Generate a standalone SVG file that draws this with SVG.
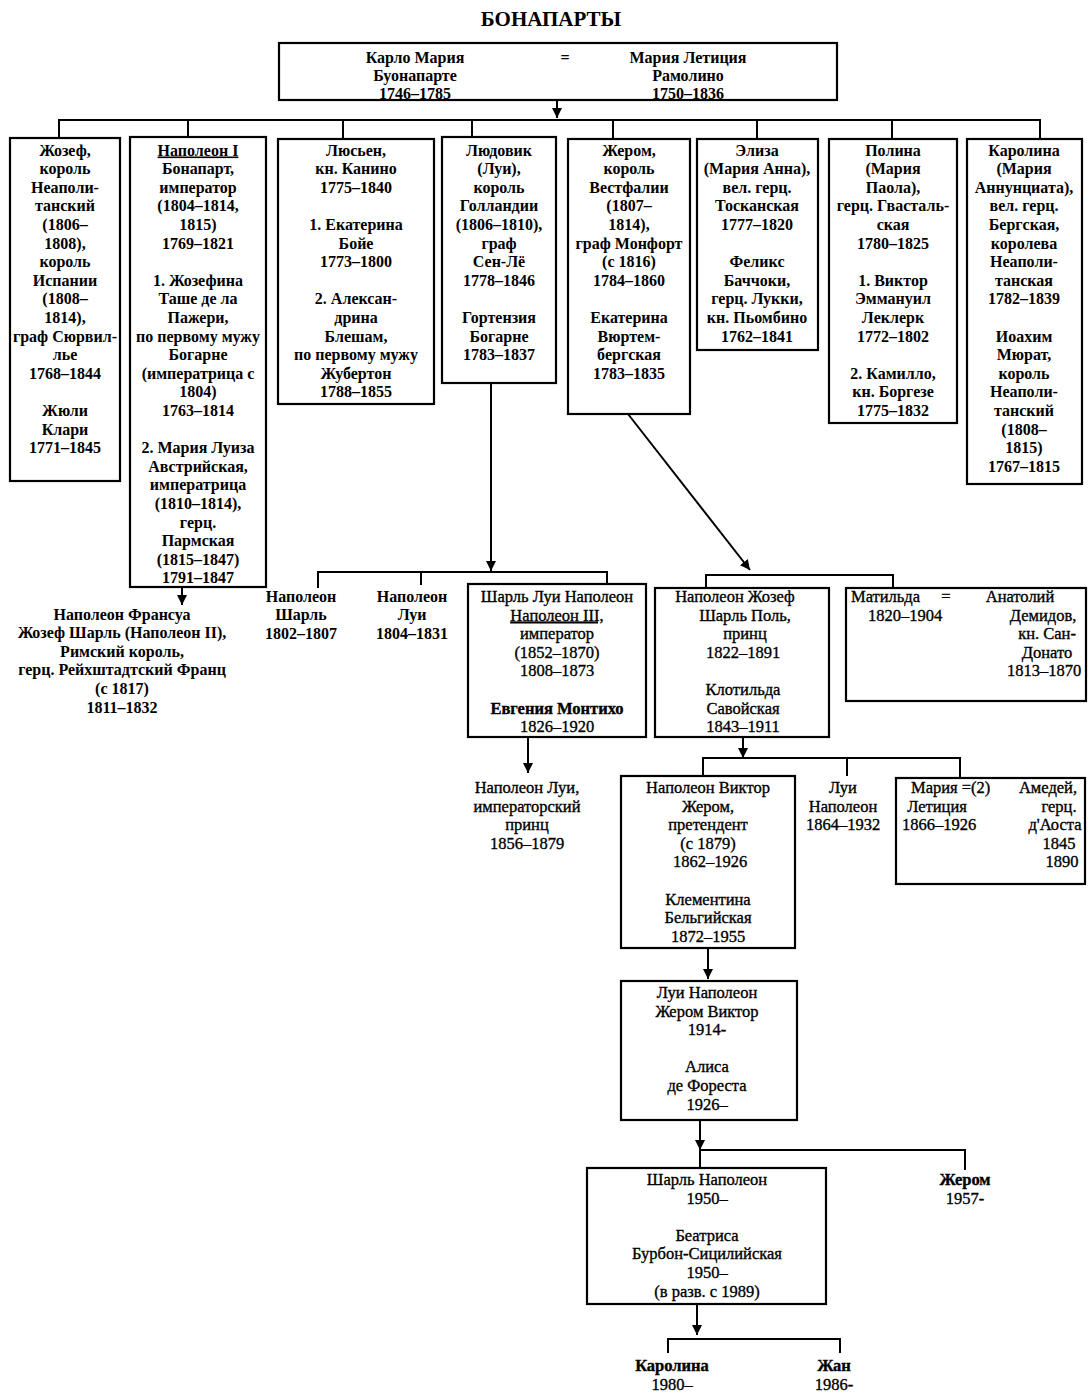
<svg xmlns="http://www.w3.org/2000/svg" width="1089" height="1395" viewBox="0 0 1089 1395">
<defs>
<marker id="arr" markerUnits="userSpaceOnUse" markerWidth="10" markerHeight="10" refX="10" refY="5" orient="auto">
<path d="M0,0 L10,5 L0,10 z" fill="#000"/>
</marker>
<style>
rect.b{fill:#fff;stroke:#000;stroke-width:2.2}
text{font-family:"Liberation Serif","Times New Roman",serif;fill:#000;text-anchor:middle}
.t{font-size:16px;font-weight:bold}
.r{font-size:16.5px;font-weight:normal;stroke:#000;stroke-width:0.35}
.l{text-anchor:start}
.c{fill:none;stroke:#000;stroke-width:2}
.a{marker-end:url(#arr)}
.u{text-decoration:underline}
</style>
</defs>
<rect width="1089" height="1395" fill="#fff"/>
<text x="551" y="26" style="font-size:21px;font-weight:bold">БОНАПАРТЫ</text>

<g id="connectors">
<path class="c a" d="M557,100 V118"/>
<path class="c" d="M59,137 V120 H1040 V138"/>
<path class="c" d="M188,120 V137 M343,120 V139 M472,120 V137 M613,120 V139 M757,120 V139 M892,120 V139"/>
<path class="c a" d="M182,587 V605"/>
<path class="c a" d="M491,383 V571"/>
<path class="c" d="M318,588 V572 H607 V584 M421,572 V585"/>
<path class="c a" d="M628,414 L750,570"/>
<path class="c" d="M706,588 V575 H893 V588"/>
<path class="c a" d="M743,737 V758"/>
<path class="c" d="M703,776 V758 H960 V778 M847,758 V776"/>
<path class="c a" d="M528,737 V773"/>
<path class="c a" d="M708,948 V979"/>
<path class="c a" d="M700,1120 V1150"/>
<path class="c" d="M700,1150 V1168 M700,1150 H965 V1170"/>
<path class="c a" d="M697,1304 V1335"/>
<path class="c" d="M668,1353 V1339 H840 V1353"/>
</g>

<g id="parents">
<rect class="b" x="279" y="43" width="558" height="57"/>
<text class="t" x="415" y="62.5">Карло Мария</text>
<text class="t" x="415" y="80.5">Буонапарте</text>
<text class="t" x="415" y="98.5">1746–1785</text>
<text class="t" x="565" y="62.5">=</text>
<text class="t" x="688" y="62.5">Мария Летиция</text>
<text class="t" x="688" y="80.5">Рамолино</text>
<text class="t" x="688" y="98.5">1750–1836</text>
</g>

<g id="joseph">
<rect class="b" x="10" y="138" width="110" height="343"/>
<text class="t" x="65" y="155.5"><tspan x="65">Жозеф,</tspan><tspan x="65" dy="18.6">король</tspan><tspan x="65" dy="18.6">Неаполи-</tspan><tspan x="65" dy="18.6">танский</tspan><tspan x="65" dy="18.6">(1806–</tspan><tspan x="65" dy="18.6">1808),</tspan><tspan x="65" dy="18.6">король</tspan><tspan x="65" dy="18.6">Испании</tspan><tspan x="65" dy="18.6">(1808–</tspan><tspan x="65" dy="18.6">1814),</tspan><tspan x="65" dy="18.6">граф Сюрвил-</tspan><tspan x="65" dy="18.6">лье</tspan><tspan x="65" dy="18.6">1768–1844</tspan><tspan x="65" dy="37.2">Жюли</tspan><tspan x="65" dy="18.6">Клари</tspan><tspan x="65" dy="18.6">1771–1845</tspan></text>
</g>

<g id="napoleon1">
<rect class="b" x="130" y="137" width="136" height="450"/>
<text class="t" x="198" y="155.5"><tspan x="198" class="u">Наполеон I</tspan><tspan x="198" dy="18.6">Бонапарт,</tspan><tspan x="198" dy="18.6">император</tspan><tspan x="198" dy="18.6">(1804–1814,</tspan><tspan x="198" dy="18.6">1815)</tspan><tspan x="198" dy="18.6">1769–1821</tspan><tspan x="198" dy="37.2">1. Жозефина</tspan><tspan x="198" dy="18.6">Таше де ла</tspan><tspan x="198" dy="18.6">Пажери,</tspan><tspan x="198" dy="18.6">по первому мужу</tspan><tspan x="198" dy="18.6">Богарне</tspan><tspan x="198" dy="18.6">(императрица с</tspan><tspan x="198" dy="18.6">1804)</tspan><tspan x="198" dy="18.6">1763–1814</tspan><tspan x="198" dy="37.2">2. Мария Луиза</tspan><tspan x="198" dy="18.6">Австрийская,</tspan><tspan x="198" dy="18.6">императрица</tspan><tspan x="198" dy="18.6">(1810–1814),</tspan><tspan x="198" dy="18.6">герц.</tspan><tspan x="198" dy="18.6">Пармская</tspan><tspan x="198" dy="18.6">(1815–1847)</tspan><tspan x="198" dy="18.6">1791–1847</tspan></text>
</g>

<g id="lucien">
<rect class="b" x="278" y="139" width="156" height="265"/>
<text class="t" x="356" y="155.5"><tspan x="356">Люсьен,</tspan><tspan x="356" dy="18.6">кн. Канино</tspan><tspan x="356" dy="18.6">1775–1840</tspan><tspan x="356" dy="37.2">1. Екатерина</tspan><tspan x="356" dy="18.6">Бойе</tspan><tspan x="356" dy="18.6">1773–1800</tspan><tspan x="356" dy="37.2">2. Алексан-</tspan><tspan x="356" dy="18.6">дрина</tspan><tspan x="356" dy="18.6">Блешам,</tspan><tspan x="356" dy="18.6">по первому мужу</tspan><tspan x="356" dy="18.6">Жубертон</tspan><tspan x="356" dy="18.6">1788–1855</tspan></text>
</g>

<g id="louis">
<rect class="b" x="442" y="137" width="114" height="246"/>
<text class="t" x="499" y="155.5"><tspan x="499">Людовик</tspan><tspan x="499" dy="18.6">(Луи),</tspan><tspan x="499" dy="18.6">король</tspan><tspan x="499" dy="18.6">Голландии</tspan><tspan x="499" dy="18.6">(1806–1810),</tspan><tspan x="499" dy="18.6">граф</tspan><tspan x="499" dy="18.6">Сен-Лё</tspan><tspan x="499" dy="18.6">1778–1846</tspan><tspan x="499" dy="37.2">Гортензия</tspan><tspan x="499" dy="18.6">Богарне</tspan><tspan x="499" dy="18.6">1783–1837</tspan></text>
</g>

<g id="jerome">
<rect class="b" x="568" y="139" width="122" height="275"/>
<text class="t" x="629" y="155.5"><tspan x="629">Жером,</tspan><tspan x="629" dy="18.6">король</tspan><tspan x="629" dy="18.6">Вестфалии</tspan><tspan x="629" dy="18.6">(1807–</tspan><tspan x="629" dy="18.6">1814),</tspan><tspan x="629" dy="18.6">граф Монфорт</tspan><tspan x="629" dy="18.6">(с 1816)</tspan><tspan x="629" dy="18.6">1784–1860</tspan><tspan x="629" dy="37.2">Екатерина</tspan><tspan x="629" dy="18.6">Вюртем-</tspan><tspan x="629" dy="18.6">бергская</tspan><tspan x="629" dy="18.6">1783–1835</tspan></text>
</g>

<g id="elisa">
<rect class="b" x="697" y="139" width="121" height="211"/>
<text class="t" x="757" y="155.5"><tspan x="757">Элиза</tspan><tspan x="757" dy="18.6">(Мария Анна),</tspan><tspan x="757" dy="18.6">вел. герц.</tspan><tspan x="757" dy="18.6">Тосканская</tspan><tspan x="757" dy="18.6">1777–1820</tspan><tspan x="757" dy="37.2">Феликс</tspan><tspan x="757" dy="18.6">Баччоки,</tspan><tspan x="757" dy="18.6">герц. Лукки,</tspan><tspan x="757" dy="18.6">кн. Пьомбино</tspan><tspan x="757" dy="18.6">1762–1841</tspan></text>
</g>

<g id="pauline">
<rect class="b" x="829" y="139" width="128" height="284"/>
<text class="t" x="893" y="155.5"><tspan x="893">Полина</tspan><tspan x="893" dy="18.6">(Мария</tspan><tspan x="893" dy="18.6">Паола),</tspan><tspan x="893" dy="18.6">герц. Гвасталь-</tspan><tspan x="893" dy="18.6">ская</tspan><tspan x="893" dy="18.6">1780–1825</tspan><tspan x="893" dy="37.2">1. Виктор</tspan><tspan x="893" dy="18.6">Эммануил</tspan><tspan x="893" dy="18.6">Леклерк</tspan><tspan x="893" dy="18.6">1772–1802</tspan><tspan x="893" dy="37.2">2. Камилло,</tspan><tspan x="893" dy="18.6">кн. Боргезе</tspan><tspan x="893" dy="18.6">1775–1832</tspan></text>
</g>

<g id="caroline">
<rect class="b" x="967" y="139" width="115" height="345"/>
<text class="t" x="1024" y="155.5"><tspan x="1024">Каролина</tspan><tspan x="1024" dy="18.6">(Мария</tspan><tspan x="1024" dy="18.6">Аннунциата),</tspan><tspan x="1024" dy="18.6">вел. герц.</tspan><tspan x="1024" dy="18.6">Бергская,</tspan><tspan x="1024" dy="18.6">королева</tspan><tspan x="1024" dy="18.6">Неаполи-</tspan><tspan x="1024" dy="18.6">танская</tspan><tspan x="1024" dy="18.6">1782–1839</tspan><tspan x="1024" dy="37.2">Иоахим</tspan><tspan x="1024" dy="18.6">Мюрат,</tspan><tspan x="1024" dy="18.6">король</tspan><tspan x="1024" dy="18.6">Неаполи-</tspan><tspan x="1024" dy="18.6">танский</tspan><tspan x="1024" dy="18.6">(1808–</tspan><tspan x="1024" dy="18.6">1815)</tspan><tspan x="1024" dy="18.6">1767–1815</tspan></text>
</g>

<g id="napoleon2">
<text class="t" x="122" y="619.5"><tspan x="122">Наполеон Франсуа</tspan><tspan x="122" dy="18.6">Жозеф Шарль (Наполеон II),</tspan><tspan x="122" dy="18.6">Римский король,</tspan><tspan x="122" dy="18.6">герц. Рейхштадтский Франц</tspan><tspan x="122" dy="18.6">(с 1817)</tspan><tspan x="122" dy="18.6">1811–1832</tspan></text>
</g>

<g id="napoleon-charles">
<text class="t" x="301" y="601.5"><tspan x="301">Наполеон</tspan><tspan x="301" dy="18.6">Шарль</tspan><tspan x="301" dy="18.6">1802–1807</tspan></text>
</g>

<g id="napoleon-louis">
<text class="t" x="412" y="601.5"><tspan x="412">Наполеон</tspan><tspan x="412" dy="18.6">Луи</tspan><tspan x="412" dy="18.6">1804–1831</tspan></text>
</g>

<g id="napoleon3">
<rect class="b" x="468" y="584" width="178" height="153"/>
<text class="r" x="557" y="602"><tspan x="557">Шарль Луи Наполеон</tspan><tspan x="557" dy="18.6" class="u">Наполеон III,</tspan><tspan x="557" dy="18.6">император</tspan><tspan x="557" dy="18.6">(1852–1870)</tspan><tspan x="557" dy="18.6">1808–1873</tspan><tspan x="557" dy="37.2" font-weight="bold">Евгения Монтихо</tspan><tspan x="557" dy="18.6">1826–1920</tspan></text>
</g>

<g id="prince-imperial">
<text class="r" x="527" y="793"><tspan x="527">Наполеон Луи,</tspan><tspan x="527" dy="18.6">императорский</tspan><tspan x="527" dy="18.6">принц</tspan><tspan x="527" dy="18.6">1856–1879</tspan></text>
</g>

<g id="plonplon">
<rect class="b" x="655" y="588" width="174" height="149"/>
<text class="r" x="742" y="602"><tspan x="735">Наполеон Жозеф</tspan><tspan x="745" dy="18.6">Шарль Поль,</tspan><tspan x="745" dy="18.6">принц</tspan><tspan x="743" dy="18.6">1822–1891</tspan><tspan x="743" dy="37.2">Клотильда</tspan><tspan x="743" dy="18.6">Савойская</tspan><tspan x="743" dy="18.6">1843–1911</tspan></text>
</g>

<g id="mathilde">
<rect class="b" x="846" y="588" width="240" height="113"/>
<text class="r l" x="851" y="602">Матильда</text>
<text class="r" x="946" y="602">=</text>
<text class="r" x="1020" y="602">Анатолий</text>
<text class="r" x="905" y="620.6">1820–1904</text>
<text class="r" x="1043" y="620.6">Демидов,</text>
<text class="r" x="1047" y="639.2">кн. Сан-</text>
<text class="r" x="1047" y="657.8">Донато</text>
<text class="r" x="1044" y="676.4">1813–1870</text>
</g>

<g id="victor">
<rect class="b" x="621" y="776" width="174" height="172"/>
<text class="r" x="708" y="793"><tspan x="708">Наполеон Виктор</tspan><tspan x="708" dy="18.6">Жером,</tspan><tspan x="708" dy="18.6">претендент</tspan><tspan x="708" dy="18.6">(с 1879)</tspan><tspan x="710" dy="18.6">1862–1926</tspan><tspan x="708" dy="37.2">Клементина</tspan><tspan x="708" dy="18.6">Бельгийская</tspan><tspan x="708" dy="18.6">1872–1955</tspan></text>
</g>

<g id="louis-napoleon-1864">
<text class="r" x="843" y="793"><tspan x="843">Луи</tspan><tspan x="843" dy="18.6">Наполеон</tspan><tspan x="843" dy="18.6">1864–1932</tspan></text>
</g>

<g id="maria-letizia">
<rect class="b" x="896" y="778" width="189" height="106"/>
<text class="r l" x="911" y="793">Мария  =(2)</text>
<text class="r" x="1048" y="793">Амедей,</text>
<text class="r" x="937" y="811.6">Летиция</text>
<text class="r" x="1059" y="811.6">герц.</text>
<text class="r" x="939" y="830.2">1866–1926</text>
<text class="r" x="1055" y="830.2">д'Аоста</text>
<text class="r" x="1059" y="848.8">1845</text>
<text class="r" x="1062" y="867.4">1890</text>
</g>

<g id="louis-jerome-victor">
<rect class="b" x="621" y="981" width="176" height="139"/>
<text class="r" x="707" y="998"><tspan x="707">Луи Наполеон</tspan><tspan x="707" dy="18.6">Жером Виктор</tspan><tspan x="707" dy="18.6">1914-</tspan><tspan x="707" dy="37.2">Алиса</tspan><tspan x="707" dy="18.6">де Фореста</tspan><tspan x="707" dy="18.6">1926–</tspan></text>
</g>

<g id="charles-napoleon">
<rect class="b" x="587" y="1168" width="239" height="136"/>
<text class="r" x="707" y="1185"><tspan x="707">Шарль Наполеон</tspan><tspan x="707" dy="18.6">1950–</tspan><tspan x="707" dy="37.2">Беатриса</tspan><tspan x="707" dy="18.6">Бурбон-Сицилийская</tspan><tspan x="707" dy="18.6">1950–</tspan><tspan x="707" dy="18.6">(в разв. с 1989)</tspan></text>
</g>

<g id="jerome-1957">
<text class="r" x="965" y="1185"><tspan x="965" font-weight="bold">Жером</tspan><tspan x="965" dy="18.6">1957-</tspan></text>
</g>

<g id="caroline-1980">
<text class="r" x="672" y="1371"><tspan x="672" font-weight="bold">Каролина</tspan><tspan x="672" dy="18.6">1980–</tspan></text>
</g>

<g id="jean-1986">
<text class="r" x="834" y="1371"><tspan x="834" font-weight="bold">Жан</tspan><tspan x="834" dy="18.6">1986-</tspan></text>
</g>
</svg>
